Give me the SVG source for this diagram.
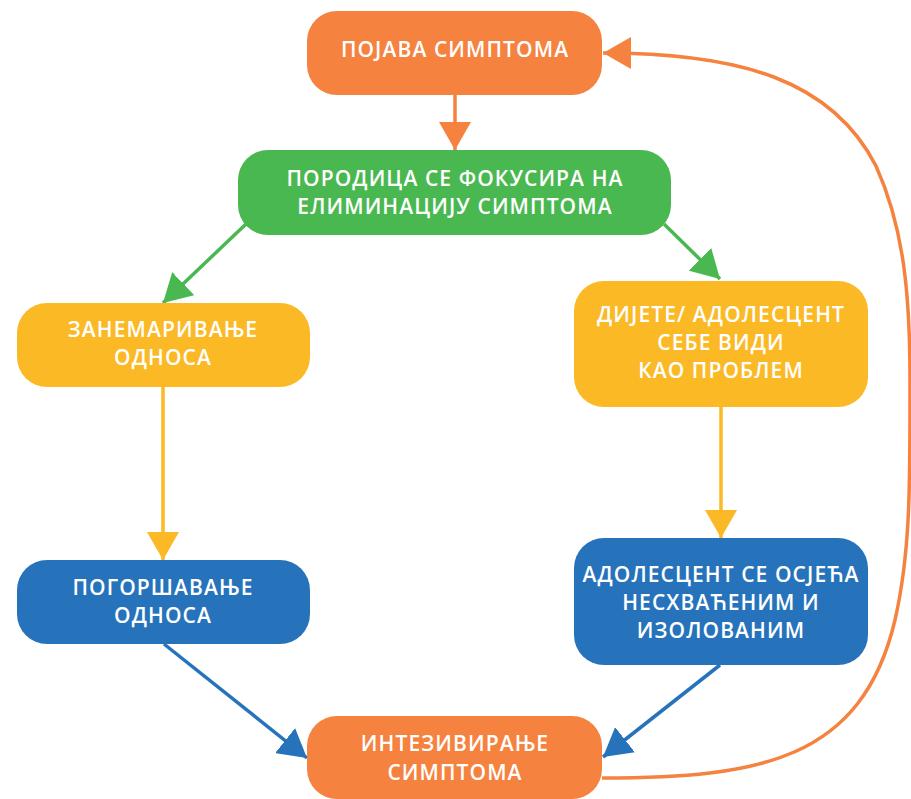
<svg xmlns="http://www.w3.org/2000/svg" width="911" height="799" viewBox="0 0 911 799">
  <style>
    .lbl { font-family: "Open Sans", "Noto Sans", "DejaVu Sans", sans-serif; font-weight: 600; font-size: 21px; fill: #ffffff; text-anchor: middle; letter-spacing: 1.1px; }
    .orange { fill: #F5823F; }
    .green { fill: #4AB851; }
    .yellow { fill: #FBB925; }
    .blue { fill: #2673BC; }
    .edge { fill: none; stroke-width: 3.5; }
  </style>
  <defs>
    <marker id="headOrange" viewBox="0 0 28 32" refX="28" refY="16" markerWidth="28" markerHeight="32" markerUnits="userSpaceOnUse" orient="auto">
      <path d="M0,0 L28,16 L0,32 z" fill="#F5823F"/>
    </marker>
    <marker id="headGreen" viewBox="0 0 28 32" refX="28" refY="16" markerWidth="28" markerHeight="32" markerUnits="userSpaceOnUse" orient="auto">
      <path d="M0,0 L28,16 L0,32 z" fill="#4AB851"/>
    </marker>
    <marker id="headYellow" viewBox="0 0 28 32" refX="28" refY="16" markerWidth="28" markerHeight="32" markerUnits="userSpaceOnUse" orient="auto">
      <path d="M0,0 L28,16 L0,32 z" fill="#FBB925"/>
    </marker>
    <marker id="headBlue" viewBox="0 0 28 32" refX="28" refY="16" markerWidth="28" markerHeight="32" markerUnits="userSpaceOnUse" orient="auto">
      <path d="M0,0 L28,16 L0,32 z" fill="#2673BC"/>
    </marker>
  </defs>

  <rect width="911" height="799" fill="#ffffff"/>

  <!-- connectors -->
  <g id="connectors">
    <path class="edge" stroke="#F5823F" d="M455,95 L455,150" marker-end="url(#headOrange)"/>
    <path class="edge" stroke="#4AB851" d="M246,224 L163,303" marker-end="url(#headGreen)"/>
    <path class="edge" stroke="#4AB851" d="M664,224 L720,279" marker-end="url(#headGreen)"/>
    <path class="edge" stroke="#FBB925" d="M163,387 L163,560" marker-end="url(#headYellow)"/>
    <path class="edge" stroke="#FBB925" d="M721,407 L721,538" marker-end="url(#headYellow)"/>
    <path class="edge" stroke="#2673BC" d="M164,644 L307,758" marker-end="url(#headBlue)"/>
    <path class="edge" stroke="#2673BC" d="M720,665 L603,757" marker-end="url(#headBlue)"/>
    <path class="edge" stroke="#F5823F" d="M602,778 C760,778 862,760 895,620 C911,550 910,480 910,380 C910,300 905,230 876,166 C832,80 740,53 603,53" marker-end="url(#headOrange)"/>
  </g>

  <!-- nodes -->
  <g id="node-pojava">
    <rect class="orange" x="307" y="11" width="295" height="84" rx="30"/>
    <text class="lbl" x="455" y="57">ПОЈАВА СИМПТОМА</text>
  </g>

  <g id="node-porodica">
    <rect class="green" x="238" y="150" width="433" height="85" rx="30"/>
    <text class="lbl" x="455" y="186">ПОРОДИЦА СЕ ФОКУСИРА НА</text>
    <text class="lbl" x="455" y="214">ЕЛИМИНАЦИЈУ СИМПТОМА</text>
  </g>

  <g id="node-zanemarivanje">
    <rect class="yellow" x="17" y="303" width="293" height="84" rx="30"/>
    <text class="lbl" x="163" y="337">ЗАНЕМАРИВАЊЕ</text>
    <text class="lbl" x="163" y="365">ОДНОСА</text>
  </g>

  <g id="node-dijete">
    <rect class="yellow" x="574" y="281" width="294" height="126" rx="30"/>
    <text class="lbl" x="721" y="322">ДИЈЕТЕ/ АДОЛЕСЦЕНТ</text>
    <text class="lbl" x="721" y="350">СЕБЕ ВИДИ</text>
    <text class="lbl" x="721" y="378">КАО ПРОБЛЕМ</text>
  </g>

  <g id="node-pogorsavanje">
    <rect class="blue" x="17" y="560" width="293" height="84" rx="30"/>
    <text class="lbl" x="163" y="595">ПОГОРШАВАЊЕ</text>
    <text class="lbl" x="163" y="623">ОДНОСА</text>
  </g>

  <g id="node-adolescent">
    <rect class="blue" x="574" y="538" width="294" height="127" rx="30"/>
    <text class="lbl" x="721" y="582">АДОЛЕСЦЕНТ СЕ ОСЈЕЋА</text>
    <text class="lbl" x="721" y="610">НЕСХВАЋЕНИМ И</text>
    <text class="lbl" x="721" y="638">ИЗОЛОВАНИМ</text>
  </g>

  <g id="node-intezivirane">
    <rect class="orange" x="307" y="716" width="295" height="83" rx="30"/>
    <text class="lbl" x="455" y="751">ИНТЕЗИВИРАЊЕ</text>
    <text class="lbl" x="455" y="780">СИМПТОМА</text>
  </g>
</svg>
